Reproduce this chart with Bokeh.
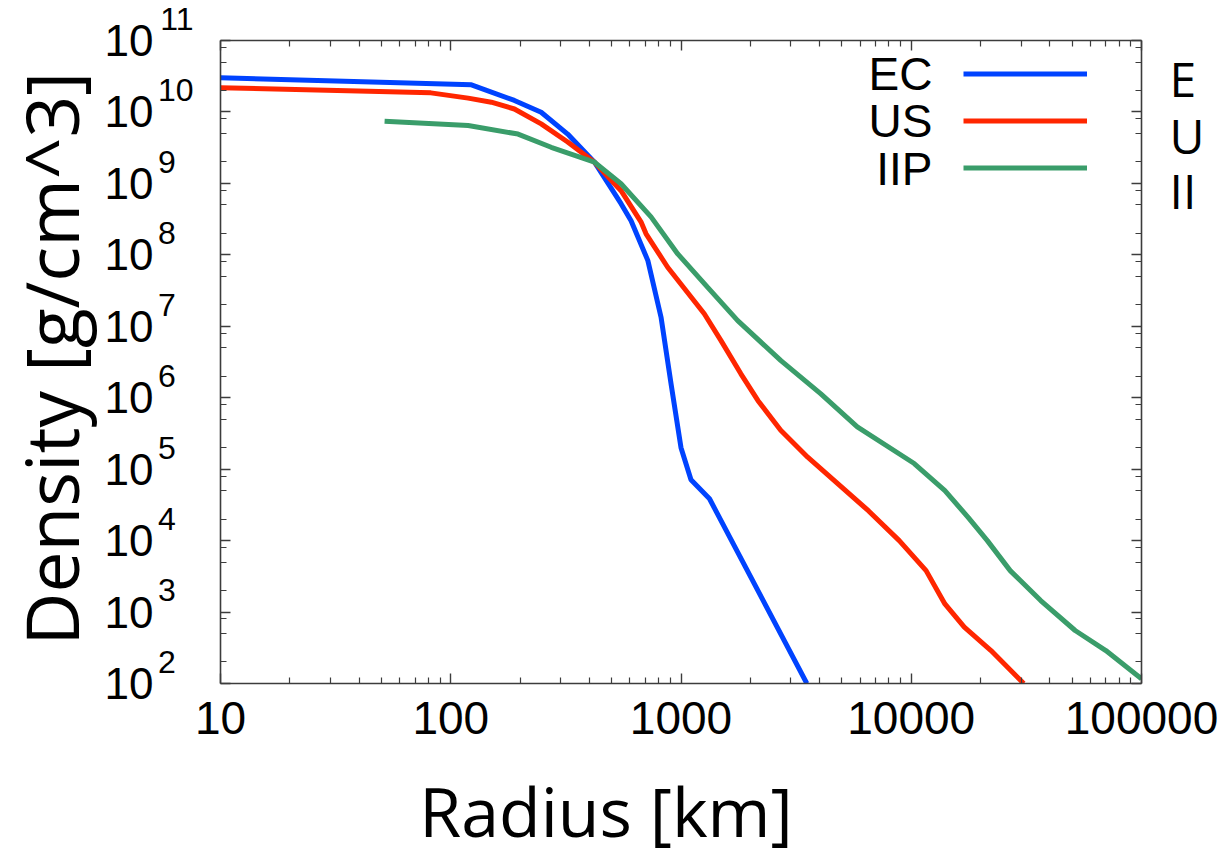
from bokeh.plotting import figure
from bokeh.models import (LogAxis, LinearAxis, Label, Legend, LegendItem, FixedTicker,
                          Range1d, LinearScale, CustomJSTickFormatter,
                          NumeralTickFormatter, Title)
from bokeh.embed import file_html
from bokeh.resources import INLINE

# ---------------- data ----------------
ec_r = [10, 123, 189, 247, 322, 421, 549, 607, 718, 819, 905, 1000, 1105, 1330, 3520]
ec_rho = [3.0e10, 2.4e10, 1.45e10, 9.9e9, 4.9e9, 1.98e9, 5.2e8, 3.0e8, 8.3e7,
          1.34e7, 1.57e6, 2.0e5, 7.1e4, 3.85e4, 1.0e2]

us_r = [10, 82, 119, 150, 189, 247, 322, 421, 549, 670, 705, 875, 1262, 1492, 1820,
        2160, 2710, 3550, 6530, 8870, 11600, 14000, 17000, 22200, 30800]
us_rho = [2.18e10, 1.85e10, 1.56e10, 1.37e10, 1.1e10, 6.8e9, 3.8e9, 1.98e9, 7.9e8,
          2.9e8, 1.97e8, 6.7e7, 1.5e7, 6.3e6, 2.16e6, 9.1e5, 3.5e5, 1.47e5, 2.6e4,
          1.0e4, 3.8e3, 1.3e3, 614, 289, 100]

iip_r = [51.6, 119, 196, 273, 421, 549, 741, 968, 1306, 1763, 2716, 4050, 5830,
         10300, 14000, 17700, 21400, 26900, 36500, 51500, 70000, 100000]
iip_rho = [7.4e9, 6.45e9, 4.9e9, 3.2e9, 1.98e9, 9.9e8, 3.4e8, 1.03e8, 3.5e7, 1.2e7,
           3.3e6, 1.13e6, 3.9e5, 1.2e5, 5.0e4, 2.1e4, 1.0e4, 3.8e3, 1.45e3, 552, 289, 116]

series_names = ["EC", "US", "IIP"]
series_colors = ["#0043ff", "#ff2600", "#3a9d6a"]

x_ticks = [10, 100, 1000, 10000, 100000]
x_minor = [m * d for d in [10, 100, 1000, 10000] for m in range(2, 10)]
y_exponents = list(range(2, 12))
y_ticks = [10.0 ** n for n in y_exponents]
y_minor = [m * 10.0 ** n for n in range(2, 11) for m in (2, 5, 8)]

x_title = "Radius [km]"
x_title_pos = 386                  # pixels right of the frame's left edge
y_title = "Density [g/cm^3]"
# partly visible second legend at the right edge of the slide
side_texts = ["E", "U", "II"]
side_rows = [38, 95, 150]          # pixels below the frame top

# ---------------- figure ----------------
p = figure(width=1227, height=861, x_axis_type="log", y_axis_type="log",
           x_range=Range1d(10, 1e5), y_range=Range1d(1e2, 1e11),
           output_backend="svg", toolbar_location=None,
           min_border_left=219, min_border_right=86, min_border_top=40,
           min_border_bottom=178)
p.grid.visible = False
p.outline_line_color = None
p.background_fill_color = "white"
p.border_fill_color = "white"

AX = "#3c3c3c"

def style_axis(ax):
    ax.axis_line_color = AX
    ax.axis_line_width = 1.6
    ax.major_tick_line_color = AX
    ax.minor_tick_line_color = AX
    ax.major_tick_line_width = 1.4
    ax.minor_tick_line_width = 1.2
    ax.major_tick_in = 10
    ax.major_tick_out = 0
    ax.minor_tick_in = 6
    ax.minor_tick_out = 0

def bare_axis(ax):
    ax.axis_line_color = None
    ax.major_tick_line_color = None
    ax.minor_tick_line_color = None
    ax.major_tick_in = 0
    ax.major_tick_out = 0
    ax.minor_tick_in = 0
    ax.minor_tick_out = 0

# bottom axis
xa = p.xaxis[0]
xa.ticker = FixedTicker(ticks=x_ticks, minor_ticks=x_minor)
xa.formatter = NumeralTickFormatter(format="0")
xa.major_label_text_font = "Liberation Sans"
xa.major_label_text_font_size = "46px"
xa.major_label_text_color = "black"
xa.major_label_standoff = 18
style_axis(xa)

# second bottom axis carrying the x title
p.extra_x_ranges = {"slidex": Range1d(start=0, end=922)}
p.extra_x_scales = {"slidex": LinearScale()}
xt_axis = LinearAxis(x_range_name="slidex",
                     ticker=FixedTicker(ticks=[x_title_pos], minor_ticks=[]),
                     major_label_overrides={x_title_pos: x_title})
bare_axis(xt_axis)
xt_axis.major_label_text_font = "Open Sans"
xt_axis.major_label_text_font_size = "68px"
xt_axis.major_label_text_color = "black"
xt_axis.major_label_standoff = 27
p.add_layout(xt_axis, "below")

# left axis: ticks + exponent part of the labels (raised with an empty 2nd line)
ya = p.yaxis[0]
ya.ticker = FixedTicker(ticks=y_ticks, minor_ticks=y_minor)
ya.formatter = CustomJSTickFormatter(code="""
    const n = Math.round(Math.log10(tick));
    return (n < 10 ? n + '\\u2007' : '' + n) + '\\n\\u2007';
""")
ya.major_label_text_font = "Liberation Sans"
ya.major_label_text_font_size = "32px"
ya.major_label_text_color = "black"
ya.major_label_standoff = 27
style_axis(ya)

# second left axis: the base "10" of the labels
base = LogAxis(ticker=FixedTicker(ticks=y_ticks, minor_ticks=[]),
               formatter=CustomJSTickFormatter(code="return '10'"))
bare_axis(base)
base.major_label_text_font = "Liberation Sans"
base.major_label_text_font_size = "44px"
base.major_label_text_color = "black"
base.major_label_standoff = 1
p.add_layout(base, "left")

# mirrored top / right axes
top = LogAxis(ticker=FixedTicker(ticks=x_ticks, minor_ticks=x_minor),
              formatter=CustomJSTickFormatter(code="return ''"))
top.major_label_text_font_size = "1px"
top.major_label_standoff = 0
style_axis(top)
p.add_layout(top, "above")

right = LogAxis(ticker=FixedTicker(ticks=y_ticks, minor_ticks=y_minor),
                formatter=CustomJSTickFormatter(code="return ''"))
right.major_label_text_font_size = "1px"
right.major_label_standoff = 0
style_axis(right)
p.add_layout(right, "right")

# the cut-off legend texts on the right edge
p.extra_y_ranges = {"slide": Range1d(start=643, end=0)}
p.extra_y_scales = {"slide": LinearScale()}
side = LinearAxis(y_range_name="slide",
                  ticker=FixedTicker(ticks=side_rows, minor_ticks=[]),
                  major_label_overrides={r: t for r, t in zip(side_rows, side_texts)})
bare_axis(side)
side.major_label_text_font = "Open Sans"
side.major_label_text_font_size = "48px"
side.major_label_text_color = "black"
side.major_label_standoff = 28
p.add_layout(side, "right")

# y title
p.add_layout(Title(text=y_title, align="left", offset=38, standoff=0,
                   vertical_align="top", text_font="Open Sans",
                   text_font_size="73px", text_font_style="normal",
                   text_color="black"), "left")

# ---------------- lines ----------------
renderers = []
for xs, ys, c in zip([ec_r, us_r, iip_r], [ec_rho, us_rho, iip_rho], series_colors):
    renderers.append(p.line(xs, ys, line_color=c, line_width=5))

# legend: line samples from a Legend, names as labels to their left
legend = Legend(items=[LegendItem(label=" ", renderers=[r]) for r in renderers],
                location=(743, 492), padding=0, margin=0, spacing=0,
                glyph_width=124, glyph_height=47, label_height=47,
                label_standoff=0, label_text_font="Liberation Sans",
                label_text_font_size="20px",
                border_line_alpha=0, background_fill_alpha=0)
p.add_layout(legend)

for i, n in enumerate(series_names):
    p.add_layout(Label(x=1e5, y=1e11, x_offset=-209, y_offset=-33 - 47.5 * i, text=n,
                       text_align="right", text_baseline="middle",
                       text_font="Liberation Sans", text_font_size="46px",
                       text_color="black"))

open("out.html", "w").write(file_html(p, INLINE))
